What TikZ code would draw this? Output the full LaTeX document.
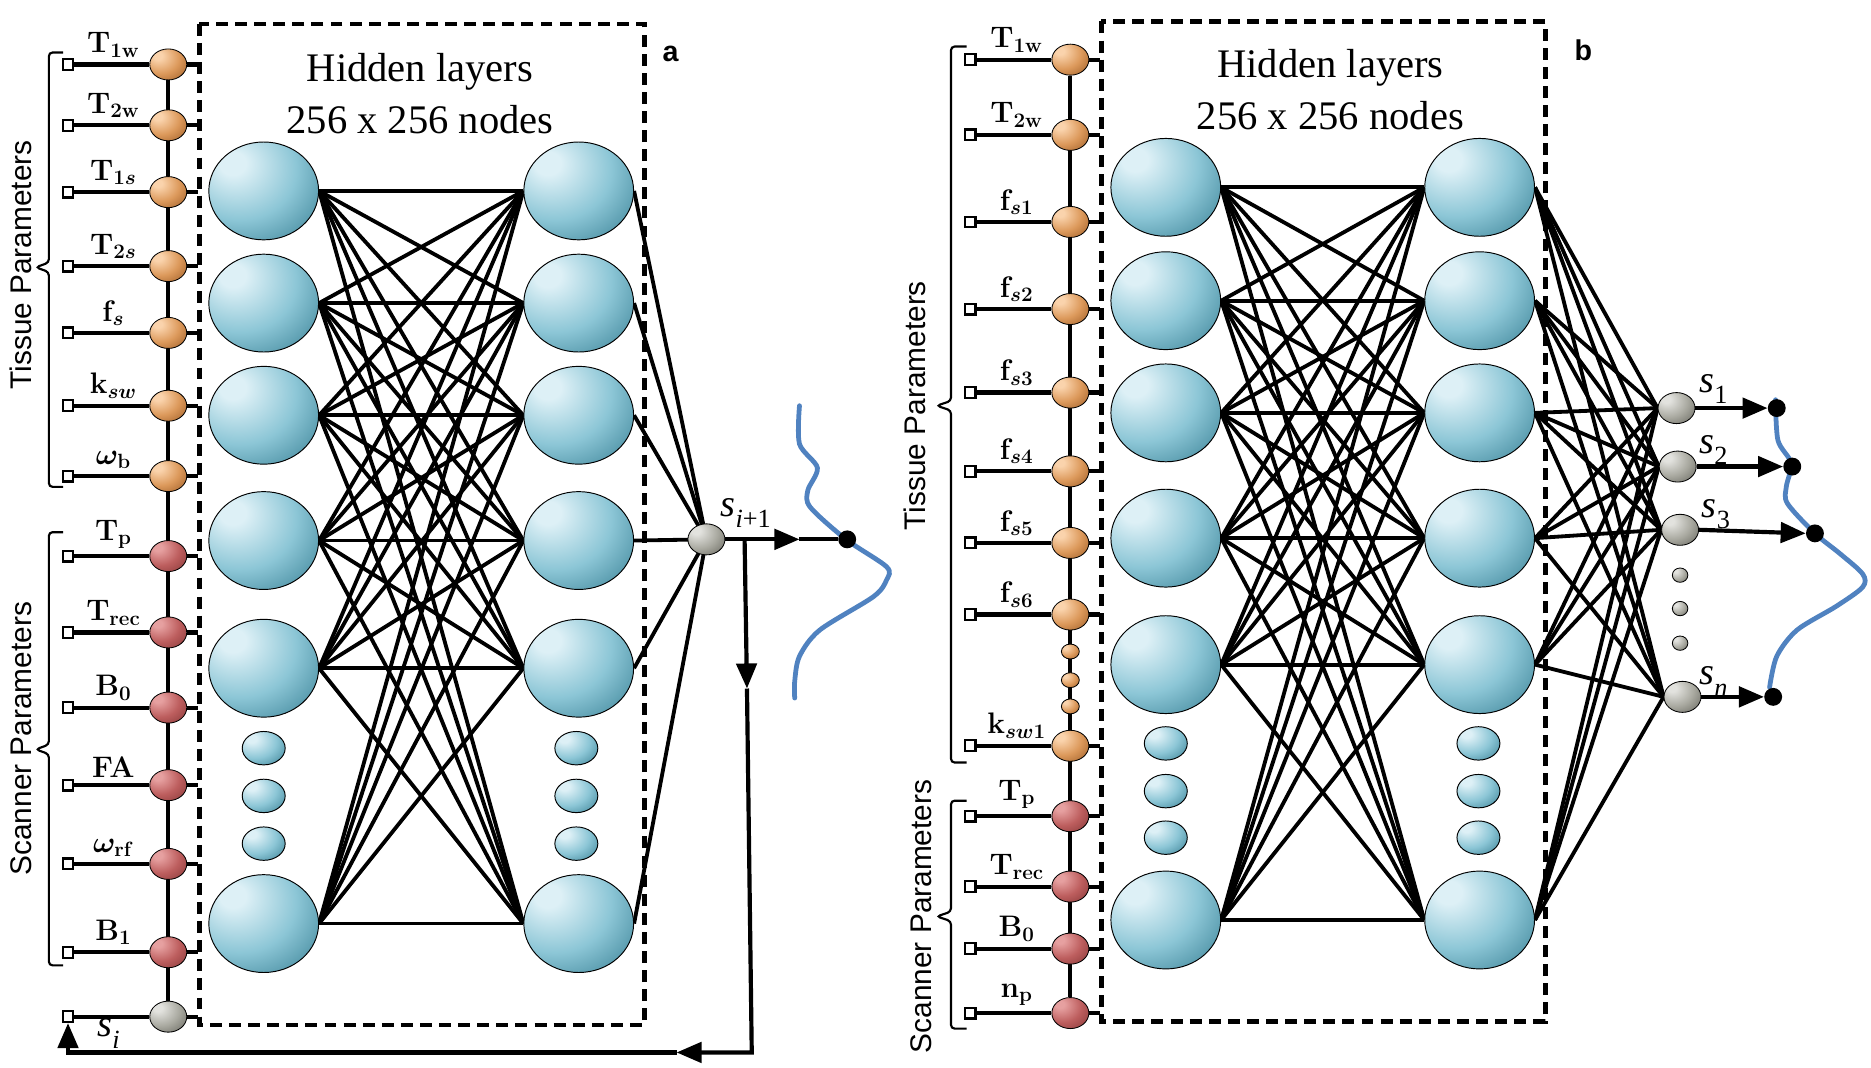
\documentclass[tikz,border=0pt]{standalone}
\usepackage{fontspec}
\usetikzlibrary{shapes.geometric,arrows.meta}
\newfontfamily\sansf{Liberation Sans}
\newfontfamily\seriff{Liberation Serif}
\newcommand{\svar}[1]{{\seriff\itshape s\raisebox{-0.3em}{\fontsize{22}{26}\selectfont #1}}}
\definecolor{tealA}{HTML}{DDF0F6}
\definecolor{tealB}{HTML}{8CC6D6}
\definecolor{tealC}{HTML}{2A7489}
\definecolor{orA}{HTML}{FAD3AC}
\definecolor{orB}{HTML}{DC995B}
\definecolor{orC}{HTML}{93531E}
\definecolor{rdA}{HTML}{E6A0A0}
\definecolor{rdB}{HTML}{BD5E5E}
\definecolor{rdC}{HTML}{7E3232}
\definecolor{gyA}{HTML}{E2E2DE}
\definecolor{gyB}{HTML}{A9A9A0}
\definecolor{gyC}{HTML}{5A5A52}
\definecolor{waveblue}{HTML}{5082C0}
\pgfdeclareradialshading{tealball}{\pgfpoint{-15bp}{15bp}}{color(0bp)=(tealA); color(6bp)=(tealA); color(26bp)=(tealB); color(50bp)=(tealC); color(100bp)=(tealC)}
\pgfdeclareradialshading{orball}{\pgfpoint{-15bp}{15bp}}{color(0bp)=(orA); color(6bp)=(orA); color(26bp)=(orB); color(50bp)=(orC); color(100bp)=(orC)}
\pgfdeclareradialshading{rdball}{\pgfpoint{-15bp}{15bp}}{color(0bp)=(rdA); color(6bp)=(rdA); color(26bp)=(rdB); color(50bp)=(rdC); color(100bp)=(rdC)}
\pgfdeclareradialshading{gyball}{\pgfpoint{-15bp}{15bp}}{color(0bp)=(gyA); color(6bp)=(gyA); color(26bp)=(gyB); color(50bp)=(gyC); color(100bp)=(gyC)}
\pgfdeclarelayer{bg}
\pgfsetlayers{bg,main}
\tikzset{
  conn/.style={line width=3.2pt},
  wire/.style={line width=3.5pt},
  hid/.style={ellipse, draw=black, line width=0.8pt, shading=tealball, minimum width=92pt, minimum height=82pt, inner sep=0pt},
  hidsm/.style={hid, minimum width=36pt, minimum height=28pt},
  nodeT/.style={ellipse, draw=black, line width=0.7pt, shading=orball, minimum width=31pt, minimum height=26pt, inner sep=0pt},
  nodeTs/.style={nodeT, minimum width=15pt, minimum height=12.5pt},
  nodeR/.style={nodeT, shading=rdball},
  nodeG/.style={nodeT, shading=gyball},
  nodeGs/.style={nodeG, minimum width=13pt, minimum height=12pt},
  sqr/.style={rectangle, draw=black, fill=white, line width=1.8pt, minimum size=9pt, inner sep=0pt},
  bdot/.style={circle, fill=black, minimum size=15pt, inner sep=0pt},
  lbl/.style={anchor=south, inner sep=0pt, font=\fontsize{25}{30}\selectfont},
  slbl/.style={inner sep=0pt, font=\fontsize{32}{38}\selectfont},
  ttl/.style={font=\seriff\fontsize{34}{40}\selectfont, inner sep=0pt},
  grp/.style={font=\sansf\fontsize{25}{30}\selectfont, rotate=90, anchor=base, inner sep=0pt},
  plabel/.style={font=\sansf\bfseries\fontsize{24}{28}\selectfont, inner sep=0pt},
  dbox/.style={dash pattern=on 10pt off 6pt, line width=3.8pt},
  brk/.style={line width=1.8pt, rounded corners=3pt},
  bluecurve/.style={line width=4pt, color=waveblue, line cap=round},
  arrowed/.style={-{Triangle[length=21pt,width=17pt]}},
}
\begin{document}
\begin{tikzpicture}[x=1pt,y=-1pt]
\useasboundingbox (0,0) rectangle (1568,895);

% ================= PANEL A =================
\draw[dbox] (167,20) rectangle (540,859);
\node[plabel] (alab) at (562,45) {a};
\node[ttl] (ahl1) at (352,60) {Hidden layers};
\node[ttl] (ahl2) at (352,100) {256 x 256 nodes};

% inputs
\foreach \y/\n/\st/\lab in {
  54/aTa/nodeT/{$\mathbf{T}_{\mathbf{1w}}$},
  105/aTb/nodeT/{$\mathbf{T}_{\mathbf{2w}}$},
  161/aTc/nodeT/{$\mathbf{T}_{\mathbf{1}s}$},
  223/aTd/nodeT/{$\mathbf{T}_{\mathbf{2}s}$},
  279/aFs/nodeT/{$\mathbf{f}_{s}$},
  340/aKsw/nodeT/{$\mathbf{k}_{sw}$},
  399/aWb/nodeT/{$\omega_{\mathbf{b}}$},
  466/aTp/nodeR/{$\mathbf{T}_{\mathbf{p}}$},
  530/aTrec/nodeR/{$\mathbf{T}_{\mathbf{rec}}$},
  593/aBz/nodeR/{$\mathbf{B}_{\mathbf{0}}$},
  658/aFA/nodeR/{$\mathbf{FA}$},
  724/aWrf/nodeR/{$\omega_{\mathbf{rf}}$},
  798/aBo/nodeR/{$\mathbf{B}_{\mathbf{1}}$}}{
  \node[sqr] (q\n) at (57,\y) {};
  \node[\st] (\n) at (141,\y) {};
  \coordinate (e\n) at (166,\y);
  \node[lbl] (l\n) at (95,{\y-6}) {{\boldmath\lab}};
  \begin{pgfonlayer}{bg}
    \draw[wire] (q\n.east) -- (\n) -- (e\n);
  \end{pgfonlayer}
}
\node[sqr] (qasi) at (57,852) {};
\node[nodeG] (asi) at (141,852) {};
\coordinate (easi) at (166,852);
\node[slbl] (lasi) at (91,866) {\svar{i}};
\begin{pgfonlayer}{bg}
  \draw[wire] (qasi.east) -- (asi) -- (easi);
  \draw[wire] (aTa) -- (asi);
\end{pgfonlayer}

% brackets and group labels
\draw[brk] (53,44) -- (41,44) -- (41,220) -- (30,224) -- (41,228) -- (41,408) -- (53,408);
\draw[brk] (53,446) -- (41,446) -- (41,624) -- (30,628) -- (41,632) -- (41,809) -- (53,809);
\node[grp] (atp) at (26.5,222) {Tissue Parameters};
\node[grp] (asp) at (26.5,619) {Scanner Parameters};

% hidden layers
\foreach \i/\y in {1/160,2/254,3/348,4/453,5/560,6/774}{
  \node[hid] (aL\i) at (221,\y) {};
  \node[hid] (aR\i) at (485,\y) {};
}
\foreach \i/\y in {1/627,2/667,3/707}{
  \node[hidsm] (aLs\i) at (221,\y) {};
  \node[hidsm] (aRs\i) at (483,\y) {};
}
\node[nodeG] (sip) at (592,452) {};
\node[slbl] (lsip) at (625,430) {\svar{i\upshape +1}};
\node[bdot] (adot) at (710,452) {};
\begin{pgfonlayer}{bg}
  \foreach \i in {1,...,6}{\foreach \j in {1,...,6}{\draw[conn] (aL\i.east) -- (aR\j.west);}}
  \foreach \j in {1,...,6}{\draw[conn] (aR\j.east) -- (sip.center);}
  \draw[bluecurve] plot[smooth] coordinates {(670,340) (670,372) (685,392) (677,411) (679,425) (709,452) (743,475) (743,486) (732,500) (687,528) (670,550) (666,571) (666,585)};
\end{pgfonlayer}
\coordinate (aah) at (670,452);
\coordinate (aj) at (624,452);
\coordinate (av) at (626,577);
\coordinate (ac1) at (630,882);
\coordinate (ah) at (567,882);
\coordinate (ac2) at (57,882);
\draw[wire, arrowed] (sip.east) -- (aah);
\draw[wire] (aah) -- (adot);
\draw[wire, arrowed] (aj) -- (av);
\draw[wire, arrowed] (av) -- (ac1) -- (ah);
\draw[wire, arrowed] (ah) -- (ac2) -- (qasi.south);

% ================= PANEL B =================
\draw[dbox] (923,18) rectangle (1295,856);
\node[plabel] (blab) at (1327,42) {b};
\node[ttl] (bhl1) at (1115,57) {Hidden layers};
\node[ttl] (bhl2) at (1115,97) {256 x 256 nodes};

\foreach \y/\n/\st/\lab in {
  50/bTa/nodeT/{$\mathbf{T}_{\mathbf{1w}}$},
  113/bTb/nodeT/{$\mathbf{T}_{\mathbf{2w}}$},
  186/bFa/nodeT/{$\mathbf{f}_{s\mathbf{1}}$},
  259/bFb/nodeT/{$\mathbf{f}_{s\mathbf{2}}$},
  329/bFc/nodeT/{$\mathbf{f}_{s\mathbf{3}}$},
  395/bFd/nodeT/{$\mathbf{f}_{s\mathbf{4}}$},
  455/bFe/nodeT/{$\mathbf{f}_{s\mathbf{5}}$},
  515/bFf/nodeT/{$\mathbf{f}_{s\mathbf{6}}$},
  625/bKsw/nodeT/{$\mathbf{k}_{sw\mathbf{1}}$},
  684/bTp/nodeR/{$\mathbf{T}_{\mathbf{p}}$},
  743/bTrec/nodeR/{$\mathbf{T}_{\mathbf{rec}}$},
  795/bBz/nodeR/{$\mathbf{B}_{\mathbf{0}}$},
  849/bNp/nodeR/{$\mathbf{n}_{\mathbf{p}}$}}{
  \node[sqr] (q\n) at (813,\y) {};
  \node[\st] (\n) at (897,\y) {};
  \coordinate (e\n) at (922,\y);
  \node[lbl] (l\n) at (852,{\y-6}) {{\boldmath\lab}};
  \begin{pgfonlayer}{bg}
    \draw[wire] (q\n.east) -- (\n) -- (e\n);
  \end{pgfonlayer}
}
\foreach \i/\y in {1/546,2/570,3/592}{\node[nodeTs] (bTs\i) at (897,\y) {};}
\begin{pgfonlayer}{bg}
  \draw[wire] (bTa) -- (bNp);
\end{pgfonlayer}

\draw[brk] (810,39) -- (797,39) -- (797,336) -- (785,340) -- (797,344) -- (797,639) -- (810,639);
\draw[brk] (810,671) -- (797,671) -- (797,764) -- (785,768) -- (797,772) -- (797,862) -- (810,862);
\node[grp] (btp) at (776,340) {Tissue Parameters};
\node[grp] (bsp) at (781,768) {Scanner Parameters};

\foreach \i/\y in {1/157,2/252,3/346,4/451,5/557,6/771}{
  \node[hid] (bL\i) at (977,\y) {};
  \node[hid] (bR\i) at (1240,\y) {};
}
\foreach \i/\y in {1/623,2/663,3/702}{
  \node[hidsm] (bLs\i) at (977,\y) {};
  \node[hidsm] (bRs\i) at (1239,\y) {};
}
% outputs
\node[nodeG] (bo1) at (1405,342) {};
\node[nodeG] (bo2) at (1406,391) {};
\node[nodeG] (bo3) at (1408,444) {};
\node[nodeG] (bon) at (1410,584) {};
\foreach \i/\y in {1/482,2/510,3/539}{\node[nodeGs] (bos\i) at (1408,\y) {};}
\node[slbl] (lbo1) at (1436,326) {\svar{\upshape 1}};
\node[slbl] (lbo2) at (1436,377) {\svar{\upshape 2}};
\node[slbl] (lbo3) at (1438,431) {\svar{\upshape 3}};
\node[slbl] (lbon) at (1436,571) {\svar{n}};
\node[bdot] (bd1) at (1489,342) {};
\node[bdot] (bd2) at (1502,391) {};
\node[bdot] (bd3) at (1521,447) {};
\node[bdot] (bdn) at (1486,584) {};
\begin{pgfonlayer}{bg}
  \foreach \i in {1,...,6}{\foreach \j in {1,...,6}{\draw[conn] (bL\i.east) -- (bR\j.west);}}
  \foreach \i in {1,...,6}{\foreach \k in {1,2,3,n}{\draw[conn] (bR\i.east) -- (bo\k.west);}}
  \draw[bluecurve] plot[smooth] coordinates {(1488,335) (1490,369) (1501,388) (1497,408) (1498,422) (1521,447) (1542,464) (1561,481) (1561,492) (1539,508) (1506,528) (1489,550) (1483,576)};
\end{pgfonlayer}
\foreach \k in {1,2,3,n}{\draw[wire, arrowed] (bo\k.east) -- (bd\k.west);}

\end{tikzpicture}
\end{document}
